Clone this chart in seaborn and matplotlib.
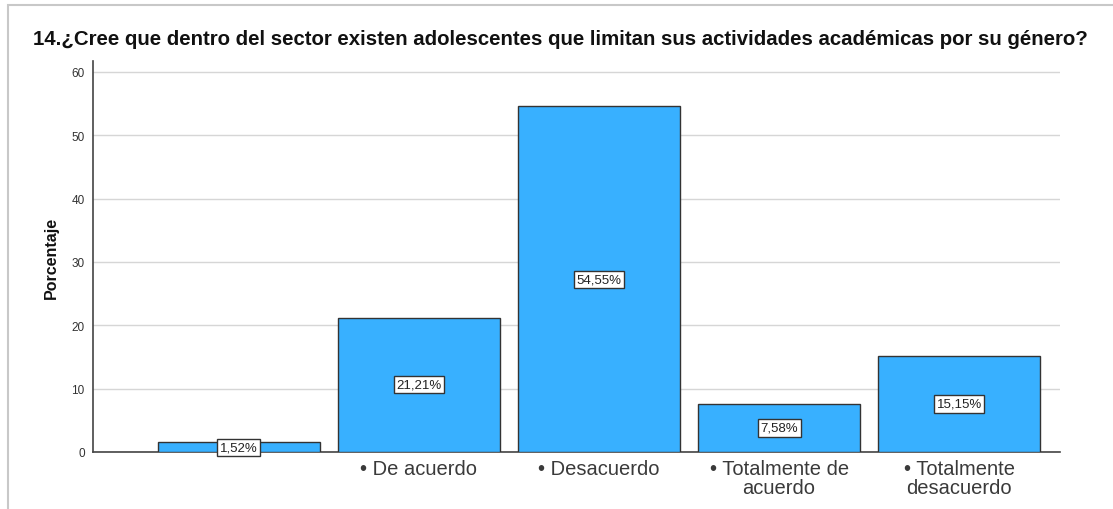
import matplotlib
matplotlib.use("Agg")
import matplotlib.pyplot as plt
import seaborn as sns
import pandas as pd
from matplotlib.patches import Rectangle

TITLE = "14.¿Cree que dentro del sector existen adolescentes que limitan sus actividades académicas por su género?"
categories = ["", "• De acuerdo", "• Desacuerdo", "• Totalmente de\nacuerdo", "• Totalmente\ndesacuerdo"]
porcentaje = [1.52, 21.21, 54.55, 7.58, 15.15]
etiquetas = ["1,52%", "21,21%", "54,55%", "7,58%", "15,15%"]
yticks = [0, 10, 20, 30, 40, 50, 60]

sns.set_theme(style="white")
plt.rcParams["font.family"] = ["Liberation Sans", "DejaVu Sans"]

df = pd.DataFrame({"cat": range(len(categories)), "pct": porcentaje})

fig = plt.figure(figsize=(11.13, 5.10), dpi=100)
# marco gris alrededor del gráfico
marco = Rectangle((8 / 1113, -0.05), 1.2, 1.05 - 6 / 510, transform=fig.transFigure,
                  facecolor="white", edgecolor="#c8c8c8", linewidth=1.5, zorder=-10)
fig.patches.append(marco)
ax = fig.add_axes([93 / 1113, 57 / 510, (1060 - 93) / 1113, (453 - 62) / 510])
ax.set_zorder(5)

sns.barplot(data=df, x="cat", y="pct", color="#38b0ff", saturation=1, width=0.9,
            edgecolor="#333333", linewidth=1, ax=ax, zorder=3)

for i, (v, t) in enumerate(zip(porcentaje, etiquetas)):
    ax.text(i, v / 2, t, ha="center", va="center", fontsize=9.5, color="#222222", zorder=5,
            bbox=dict(boxstyle="square,pad=0.2", facecolor="white", edgecolor="#333333", linewidth=1))

ax.set_xlim(-0.81, 4.56)
ax.set_ylim(0, 61.7)
ax.set_yticks(yticks)
ax.set_yticklabels([str(t) for t in yticks], fontsize=8.5, color="#333333")
ax.set_xticks(range(len(categories)))
ax.set_xticklabels(categories, fontsize=14.5, color="#3a3a3a", linespacing=1.0)
ax.tick_params(axis="both", length=0, pad=6)
ax.tick_params(axis="x", pad=5)
ax.yaxis.grid(True, color="#d6d6d6", linewidth=1, zorder=0)
ax.set_axisbelow(True)
for s in ["top", "right"]:
    ax.spines[s].set_visible(False)
for s in ["left", "bottom"]:
    ax.spines[s].set_color("#444444")
    ax.spines[s].set_linewidth(1.2)
ax.set_xlabel("")
ax.set_ylabel("Porcentaje", fontsize=11.5, fontweight="bold", color="#111111", labelpad=9)
ax.patch.set_alpha(0)

fig.text(33 / 1113, 1 - 40 / 510, TITLE, fontsize=14.7, fontweight="bold", color="#111111",
         ha="left", va="center", zorder=6)

fig.savefig("out.png", dpi=100)
